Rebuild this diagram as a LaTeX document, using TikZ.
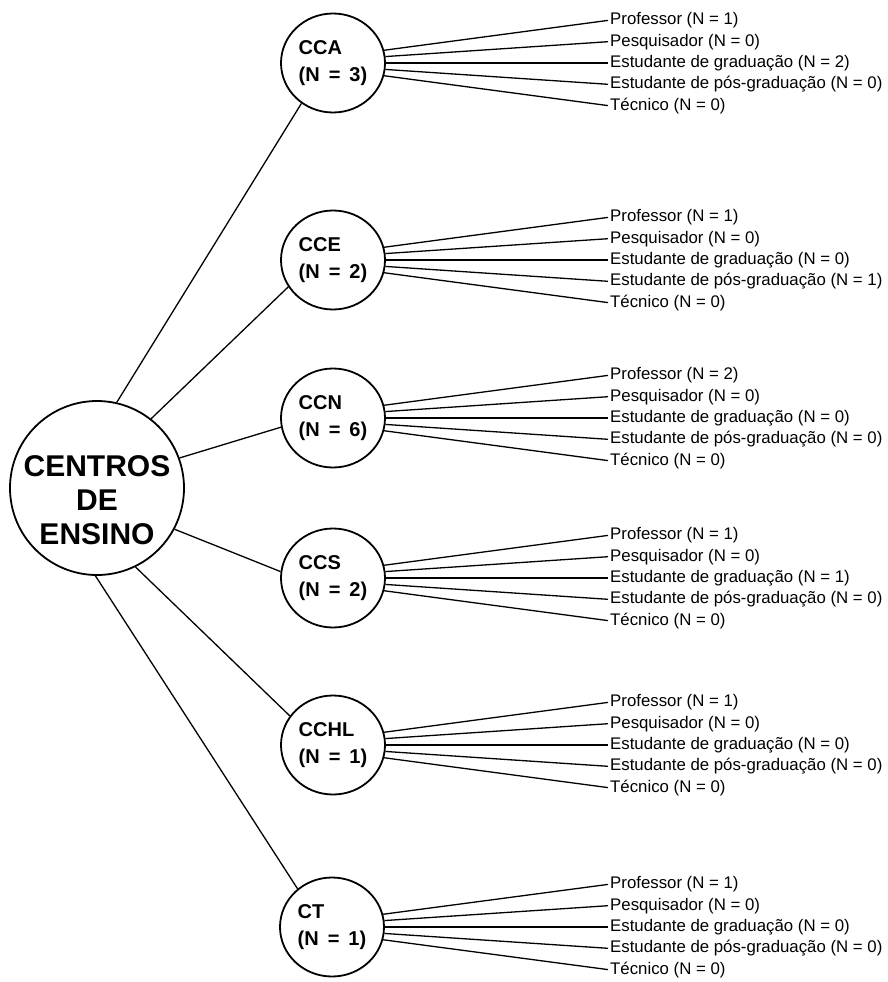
\documentclass[tikz,border=0pt]{standalone}
\usepackage{fontspec}
\setmainfont{Liberation Sans}
\usetikzlibrary{shapes.geometric}
\newcommand\Nc[1]{(N\hspace{0.45em}=\hspace{0.45em}#1)}
\begin{document}
\begin{tikzpicture}[x=1pt,y=-1pt,
  small/.style={draw, line width=1.8pt, ellipse, minimum width=104pt, minimum height=99pt, inner sep=0pt,
                font=\fontsize{20}{27}\selectfont\bfseries, align=left},
  bigc/.style={draw, circle, line width=1.8pt, minimum size=174pt, inner sep=0pt},
  bigtxt/.style={font=\fontsize{30}{34}\selectfont\bfseries, align=center, inner sep=0pt},
  lab/.style={font=\fontsize{16.8}{17}\selectfont, anchor=west, inner sep=2pt},
  conn/.style={line width=1.3pt},
  fan/.style={line width=1.3pt}]
\useasboundingbox (0,0) rectangle (888,982);

% central node
\node[bigc] (big) at (97,488) {};
\node[bigtxt] (bigtext) at (97,500) {CENTROS\\DE\\ENSINO};

% centres
\node[small] (cca)  at (333,63)  {CCA\\\Nc{3}};
\node[small] (cce)  at (333,260) {CCE\\\Nc{2}};
\node[small] (ccn)  at (333,418) {CCN\\\Nc{6}};
\node[small] (ccs)  at (333,578) {CCS\\\Nc{2}};
\node[small] (cchl) at (333,745) {CCHL\\\Nc{1}};
\node[small] (ct)   at (332,927) {CT\\\Nc{1}};

% connectors from the central node
\draw[conn] (big.77)  -- (cca.232);
\draw[conn] (big.52)  -- (cce.211);
\draw[conn] (big.20)  -- (ccn.190);
\draw[conn] (big.-28) -- (ccs.173);
\draw[conn] (big.-64) -- (cchl.146);
\draw[conn] (big.-91) -- (ct.132);

% category labels
\foreach \nm/\cy/\a/\b/\c/\d/\e in {cca/63/1/0/2/0/0, cce/260/1/0/0/1/0, ccn/418/2/0/0/0/0,
                                    ccs/578/1/0/1/0/0, cchl/745/1/0/0/0/0, ct/927/1/0/0/0/0}{
  \node[lab] (\nm-p) at (608,\cy-42.6) {Professor (N = \a)};
  \node[lab] (\nm-q) at (608,\cy-21.3) {Pesquisador (N = \b)};
  \node[lab] (\nm-g) at (608,\cy)      {Estudante de graduação (N = \c)};
  \node[lab] (\nm-s) at (608,\cy+21.3) {Estudante de pós-graduação (N = \d)};
  \node[lab] (\nm-t) at (608,\cy+42.6) {Técnico (N = \e)};
  \draw[fan] (\nm.14)  -- (\nm-p.west);
  \draw[fan] (\nm.7)   -- (\nm-q.west);
  \draw[fan] (\nm.0)   -- (\nm-g.west);
  \draw[fan] (\nm.-7)  -- (\nm-s.west);
  \draw[fan] (\nm.-14) -- (\nm-t.west);
}
\end{tikzpicture}
\end{document}
